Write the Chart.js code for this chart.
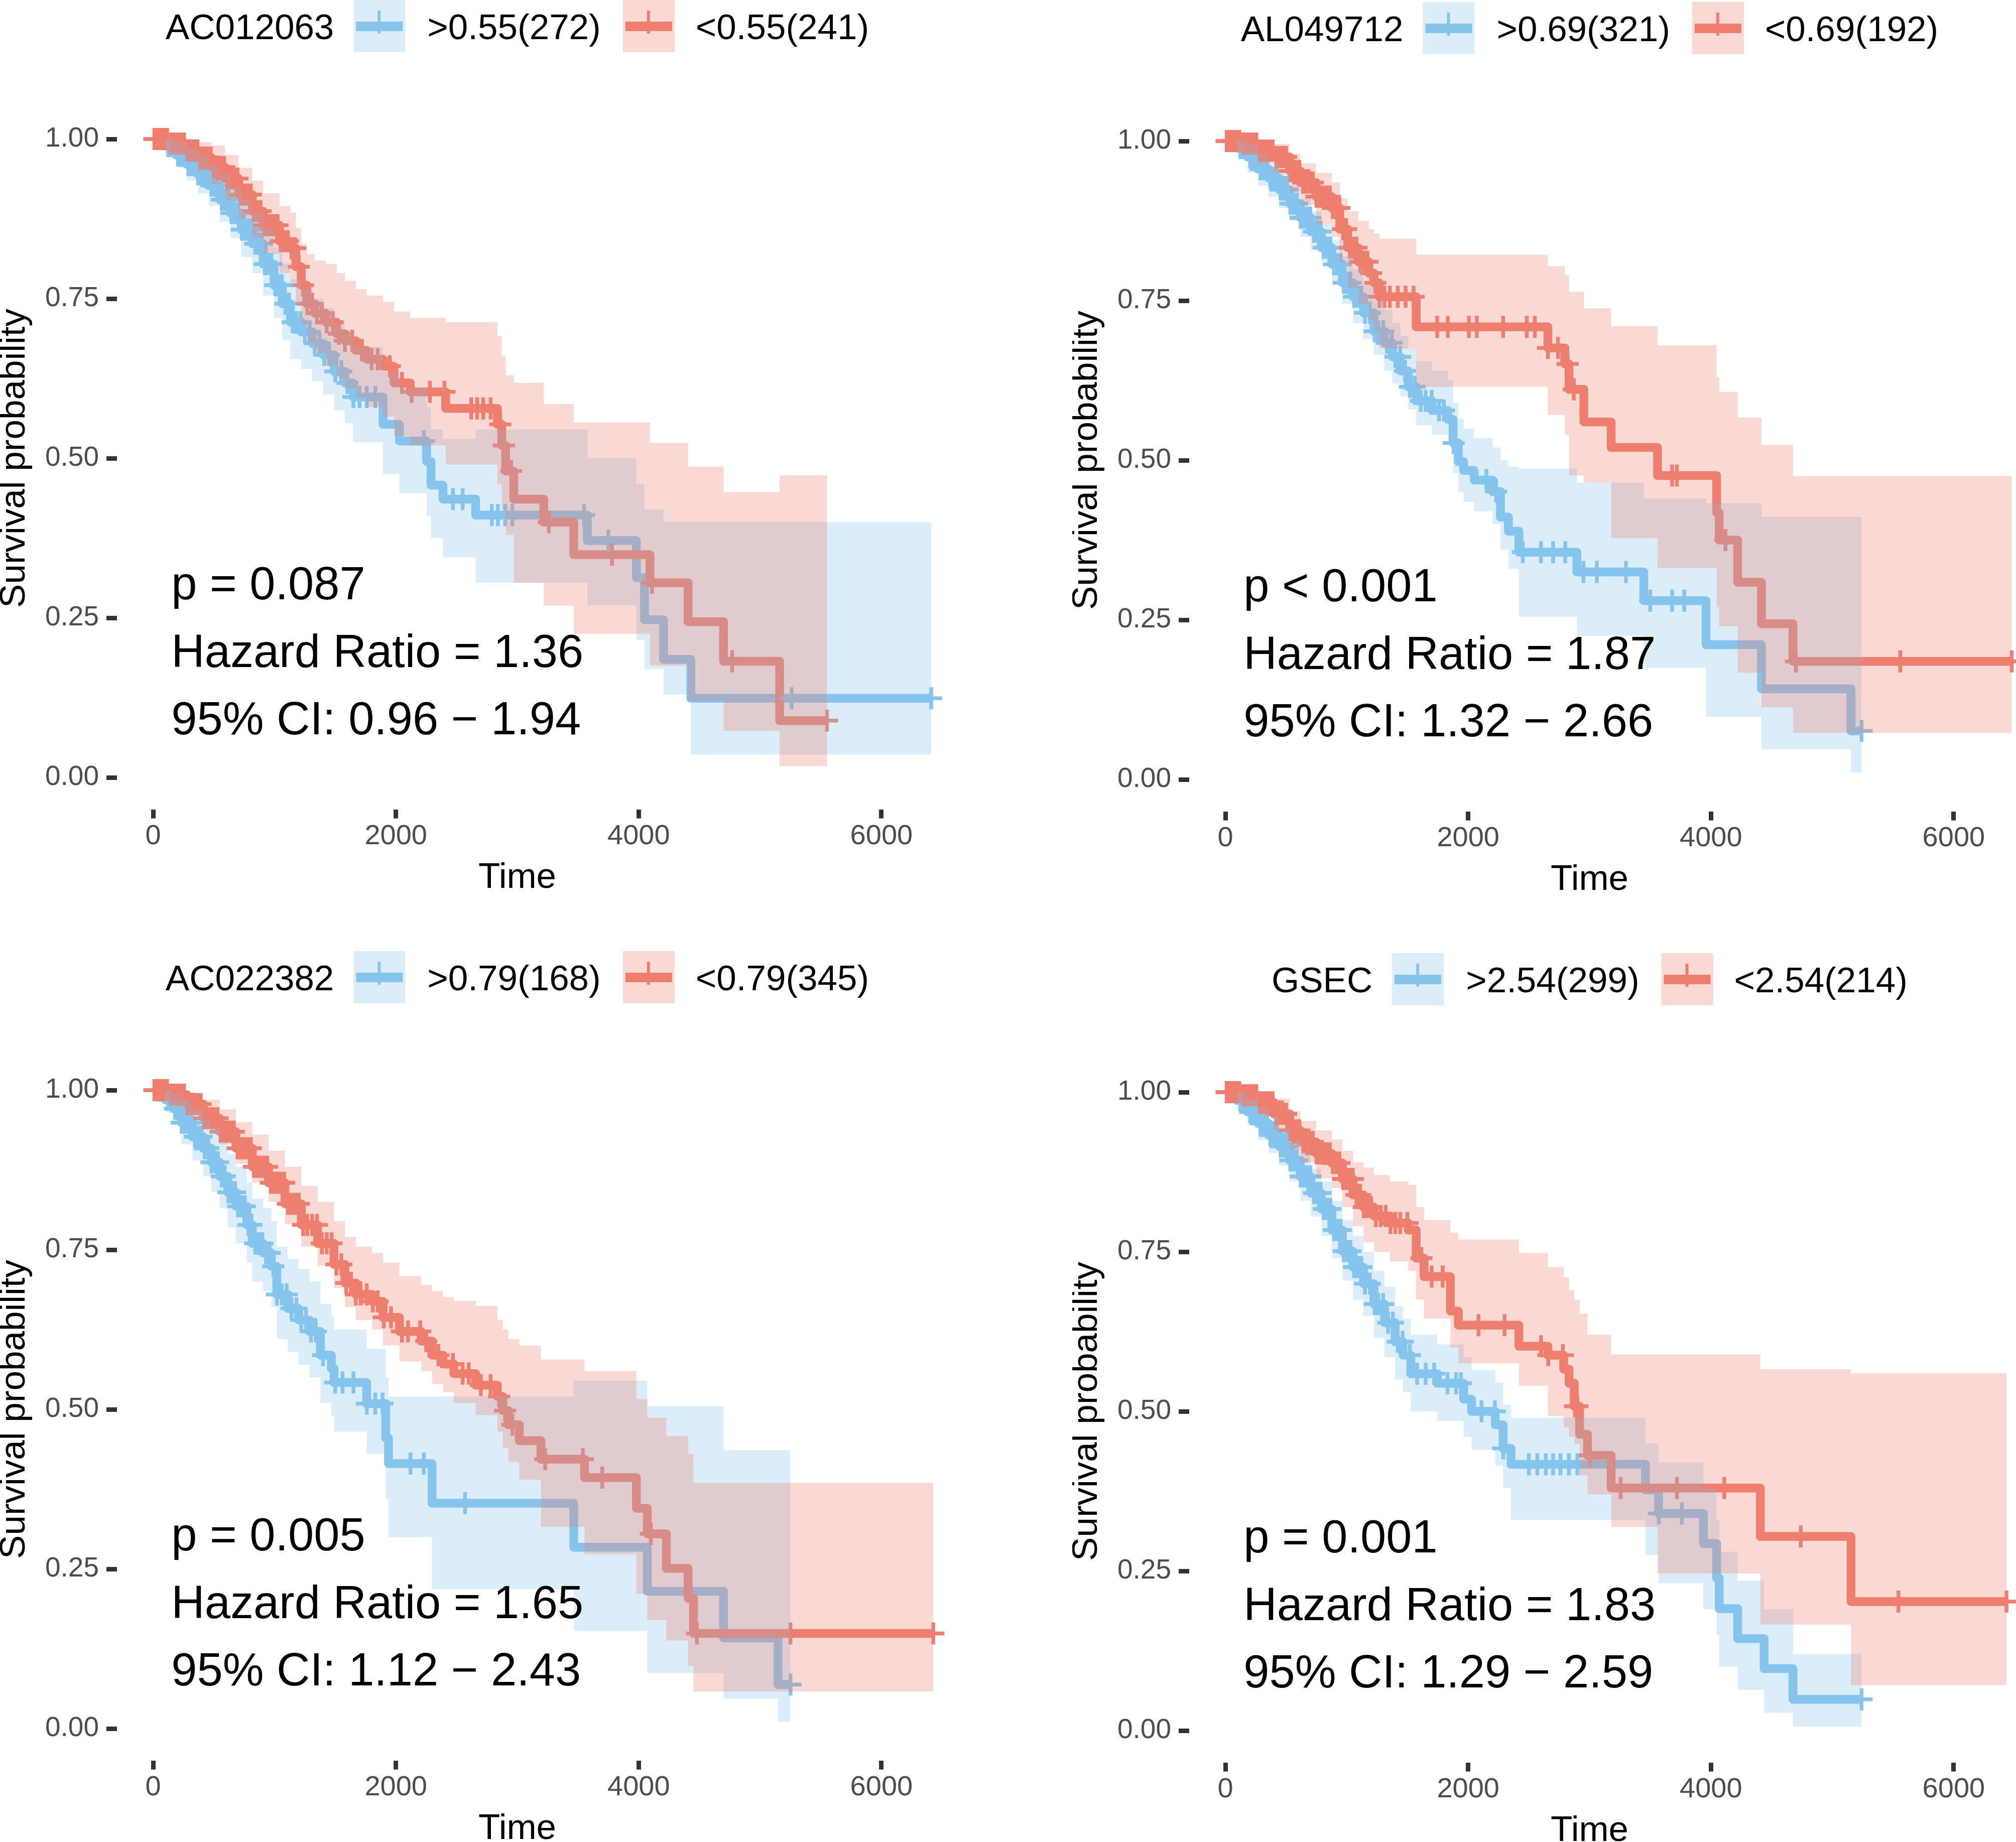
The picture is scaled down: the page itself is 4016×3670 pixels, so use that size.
<!DOCTYPE html>
<html>
<head>
<meta charset="utf-8">
<script src="https://cdn.jsdelivr.net/npm/chart.js@4.4.0/dist/chart.umd.min.js"></script>
<style>
html, body { margin: 0; padding: 0; background: #fff; overflow: hidden; }
body { width: 4016px; height: 3670px; position: relative; }
.panel { position: absolute; width: 2136px; height: 1895px; }
</style>
</head>
<body>
<div class="panel" style="left:0px;top:0px"><canvas id="km1" width="2136" height="1895"></canvas></div>
<div class="panel" style="left:2136px;top:4px"><canvas id="km2" width="2136" height="1895"></canvas></div>
<div class="panel" style="left:0px;top:1895px"><canvas id="km3" width="2136" height="1895"></canvas></div>
<div class="panel" style="left:2136px;top:1899px"><canvas id="km4" width="2136" height="1895"></canvas></div>
<script>
// labels and stats
var geneNames = ["AC012063", "AL049712", "AC022382", "GSEC"];
var highLabels = [">0.55(272)", ">0.69(321)", ">0.79(168)", ">2.54(299)"];
var lowLabels = ["<0.55(241)", "<0.69(192)", "<0.79(345)", "<2.54(214)"];
var pTexts = ["p = 0.087", "p < 0.001", "p = 0.005", "p = 0.001"];
var hrTexts = ["Hazard Ratio = 1.36", "Hazard Ratio = 1.87", "Hazard Ratio = 1.65", "Hazard Ratio = 1.83"];
var ciTexts = ["95% CI: 0.96 \u2212 1.94", "95% CI: 1.32 \u2212 2.66", "95% CI: 1.12 \u2212 2.43", "95% CI: 1.29 \u2212 2.59"];
var xTicks = [0, 2000, 4000, 6000];
var yTicks = [0, 0.25, 0.5, 0.75, 1];

// panel 1 - AC012063, high group
var p1HiTime = [0, 99, 188, 278, 368, 458, 548, 637, 727, 817, 907, 996, 1064, 1131, 1221, 1310, 1400, 1490, 1580, 1647, 1894, 2029, 2253, 2289, 2388, 2657, 3577, 3981, 4048, 4205, 4430];
var p1HiSurv = [1, .989, .975, .96, .945, .927, .905, .884, .858, .836, .804, .771, .742, .713, .698, .68, .662, .636, .618, .596, .553, .527, .495, .458, .436, .411, .371, .313, .247, .185, .124];
var p1HiUp = [1, 1, .995, .985, .975, .96, .945, .925, .905, .885, .86, .83, .805, .78, .765, .75, .735, .71, .695, .675, .635, .61, .58, .545, .53, .545, .50, .46, .42, .40, .40];
var p1HiLow = [1, .975, .955, .935, .915, .895, .87, .845, .815, .79, .755, .72, .685, .655, .64, .62, .60, .575, .555, .525, .475, .445, .41, .375, .345, .305, .27, .215, .17, .13, .036];
var p1HiCens = [15, 40, 70, 95, 125, 150, 180, 205, 235, 260, 290, 315, 345, 370, 400, 425, 455, 480, 510, 535, 565, 590, 620, 645, 675, 700, 730, 755, 785, 810, 840, 865, 895, 920, 950, 975, 1005, 1030, 1060, 1090, 1120, 1150, 1180, 1215, 1250, 1290, 1330, 1370, 1410, 1450, 1500, 1550, 1600, 1650, 1700, 1760, 1830, 2230, 2470, 2550, 2790, 2840, 2900, 2960, 3550, 3750, 5260, 6410];
// panel 1 - low group
var p1LoTime = [0, 144, 278, 368, 480, 592, 705, 817, 907, 1041, 1131, 1176, 1221, 1266, 1333, 1423, 1512, 1580, 1670, 1759, 1894, 1984, 2118, 2410, 2836, 2872, 2904, 2971, 3218, 3465, 4093, 4407, 4699, 5161];
var p1LoSurv = [1, .993, .982, .971, .956, .938, .913, .887, .865, .840, .829, .800, .771, .742, .727, .713, .695, .684, .669, .655, .644, .618, .604, .578, .553, .520, .480, .436, .400, .349, .305, .244, .182, .089];
var p1LoUp = [1, 1, 1, .995, .99, .975, .955, .935, .915, .895, .885, .86, .836, .82, .81, .804, .79, .778, .765, .755, .745, .73, .72, .713, .691, .66, .63, .618, .585, .556, .524, .487, .447, .473];
var p1LoLow = [1, .98, .965, .95, .93, .905, .875, .845, .82, .79, .775, .745, .71, .68, .665, .645, .625, .61, .595, .58, .565, .535, .52, .49, .46, .42, .38, .305, .269, .225, .175, .12, .073, .018];
var p1LoCens = [10, 35, 60, 90, 115, 145, 170, 200, 225, 255, 280, 310, 335, 365, 390, 420, 445, 475, 500, 530, 555, 585, 610, 640, 665, 695, 720, 750, 775, 805, 830, 860, 885, 915, 940, 970, 995, 1025, 1050, 1080, 1110, 1140, 1170, 1200, 1235, 1270, 1310, 1350, 1390, 1430, 1480, 1530, 1580, 1640, 1720, 1800, 1850, 1950, 2050, 2130, 2280, 2400, 2620, 2670, 2720, 2780, 2860, 2890, 2950, 3260, 3780, 4110, 4770, 5552];

// panel 2 - AL049712, high group
var p2HiTime = [0, 96, 182, 269, 356, 443, 530, 617, 703, 790, 877, 964, 1051, 1138, 1224, 1311, 1376, 1442, 1507, 1572, 1702, 1832, 1876, 1919, 1963, 2049, 2201, 2266, 2332, 2418, 2896, 3447, 3960, 4416, 5154];
var p2HiSurv = [1, .989, .975, .956, .942, .924, .902, .88, .858, .833, .807, .778, .756, .731, .702, .684, .662, .64, .615, .593, .578, .564, .527, .498, .484, .469, .451, .411, .389, .356, .325, .28, .211, .142, .076];
var p2HiUp = [1, 1, .995, .98, .965, .95, .93, .91, .89, .87, .845, .82, .80, .775, .75, .735, .715, .695, .675, .655, .64, .625, .59, .565, .55, .535, .52, .50, .49, .487, .465, .44, .433, .411, .411];
var p2HiLow = [1, .975, .95, .93, .913, .895, .875, .85, .83, .811, .78, .745, .715, .69, .665, .64, .62, .60, .58, .555, .54, .525, .48, .45, .435, .42, .40, .36, .33, .255, .225, .175, .098, .047, .011];
var p2HiCens = [15, 40, 70, 95, 125, 150, 180, 205, 235, 260, 290, 315, 345, 370, 400, 425, 455, 480, 510, 535, 565, 590, 620, 645, 675, 700, 730, 755, 785, 810, 840, 865, 895, 920, 950, 975, 1005, 1030, 1060, 1090, 1120, 1150, 1190, 1230, 1260, 1300, 1330, 1370, 1400, 1440, 1480, 1520, 1560, 1610, 1650, 1700, 1760, 1800, 1880, 2150, 2230, 2450, 2600, 2700, 2800, 2950, 3060, 3300, 3500, 3680, 3780, 5241];
// panel 2 - low group
var p2LoTime = [0, 139, 269, 399, 530, 617, 747, 877, 942, 1007, 1094, 1181, 1224, 1268, 1572, 2657, 2796, 2831, 2953, 3178, 3560, 4047, 4068, 4220, 4416, 4676];
var p2LoSurv = [1, .996, .985, .975, .953, .935, .913, .895, .862, .833, .811, .793, .778, .756, .709, .676, .651, .611, .56, .52, .476, .418, .375, .309, .244, .185];
var p2LoUp = [1, 1, 1, .995, .98, .965, .95, .935, .91, .89, .875, .862, .855, .847, .822, .804, .79, .764, .738, .71, .68, .63, .607, .567, .524, .475];
var p2LoLow = [1, .985, .965, .95, .92, .90, .87, .85, .81, .77, .745, .72, .70, .675, .615, .571, .54, .476, .465, .378, .331, .27, .24, .167, .113, .073];
var p2LoCens = [10, 35, 60, 90, 115, 145, 170, 200, 225, 255, 280, 310, 335, 365, 390, 420, 445, 475, 500, 530, 555, 585, 610, 640, 665, 695, 720, 750, 775, 805, 830, 860, 885, 915, 940, 970, 995, 1025, 1050, 1080, 1110, 1140, 1170, 1200, 1235, 1270, 1310, 1355, 1420, 1485, 1550, 1745, 1832, 2006, 2071, 2288, 2483, 2549, 2657, 2740, 2820, 2870, 3680, 3720, 4120, 4700, 5560, 6478];

// panel 3 - AC022382, high group
var p3HiTime = [0, 99, 166, 233, 323, 413, 480, 548, 615, 682, 772, 817, 907, 974, 1019, 1109, 1198, 1288, 1378, 1468, 1490, 1759, 1916, 1939, 2298, 3465, 4071, 4699, 5148];
var p3HiSurv = [1, .985, .971, .949, .927, .909, .887, .865, .84, .818, .789, .76, .745, .724, .68, .658, .64, .622, .585, .564, .542, .509, .455, .415, .353, .284, .215, .142, .069];
var p3HiUp = [1, 1, .995, .985, .97, .955, .94, .92, .90, .88, .855, .83, .815, .795, .755, .735, .72, .70, .665, .645, .625, .595, .55, .52, .52, .545, .505, .436, .436];
var p3HiLow = [1, .965, .945, .915, .89, .865, .84, .815, .785, .76, .73, .70, .685, .66, .61, .59, .57, .55, .51, .49, .465, .43, .36, .30, .218, .153, .087, .047, .011];
var p3HiCens = [15, 40, 70, 95, 125, 150, 180, 205, 235, 260, 290, 315, 345, 370, 400, 425, 455, 480, 510, 535, 565, 590, 620, 645, 675, 700, 730, 755, 785, 810, 840, 870, 900, 930, 960, 990, 1020, 1060, 1100, 1140, 1180, 1220, 1260, 1300, 1340, 1400, 1500, 1560, 1650, 1760, 1830, 1890, 2120, 2230, 2570, 5251];
// panel 3 - low group
var p3LoTime = [0, 144, 278, 413, 548, 682, 817, 951, 1086, 1221, 1355, 1490, 1580, 1670, 1804, 1894, 2029, 2208, 2298, 2388, 2477, 2657, 2836, 2881, 2926, 3016, 3195, 3554, 3981, 4071, 4228, 4407, 4452];
var p3LoSurv = [1, .993, .978, .956, .935, .909, .88, .855, .822, .789, .76, .727, .698, .68, .669, .644, .622, .607, .585, .571, .556, .538, .52, .498, .476, .451, .422, .393, .345, .305, .251, .204, .149];
var p3LoUp = [1, 1, .995, .985, .97, .95, .93, .905, .88, .85, .825, .795, .77, .755, .745, .73, .709, .695, .685, .676, .67, .662, .64, .625, .61, .60, .578, .56, .516, .487, .458, .43, .385];
var p3LoLow = [1, .985, .965, .94, .915, .885, .855, .825, .79, .755, .725, .69, .66, .64, .625, .60, .575, .56, .54, .527, .51, .491, .465, .44, .418, .39, .316, .273, .211, .17, .138, .098, .058];
var p3LoCens = [10, 35, 60, 90, 115, 145, 170, 200, 225, 255, 280, 310, 335, 365, 390, 420, 445, 475, 500, 530, 555, 585, 610, 640, 665, 695, 720, 750, 775, 805, 830, 860, 885, 915, 940, 970, 995, 1025, 1050, 1080, 1110, 1140, 1170, 1200, 1235, 1270, 1310, 1350, 1390, 1430, 1470, 1510, 1550, 1590, 1630, 1670, 1710, 1760, 1810, 1850, 1900, 1960, 2050, 2100, 2200, 2250, 2350, 2470, 2550, 2600, 2700, 2780, 2850, 2900, 2960, 3230, 3540, 3700, 4100, 4480, 5250, 6427];

// panel 4 - GSEC, high group
var p4HiTime = [0, 96, 182, 269, 356, 443, 530, 617, 703, 790, 877, 964, 1051, 1138, 1224, 1311, 1398, 1463, 1528, 1745, 1963, 2028, 2223, 2288, 2353, 3461, 3569, 3938, 4047, 4068, 4220, 4438, 4676];
var p4HiSurv = [1, .987, .969, .951, .933, .915, .893, .868, .842, .817, .784, .751, .726, .70, .668, .639, .609, .588, .559, .544, .519, .50, .479, .442, .417, .377, .34, .293, .239, .191, .144, .097, .049];
var p4HiUp = [1, 1, .99, .975, .96, .945, .925, .905, .88, .86, .83, .80, .775, .75, .72, .695, .665, .645, .62, .605, .585, .565, .545, .51, .49, .45, .42, .38, .33, .28, .235, .19, .12];
var p4HiLow = [1, .97, .95, .925, .905, .885, .86, .83, .805, .775, .74, .705, .675, .65, .615, .585, .55, .53, .50, .485, .46, .44, .415, .38, .33, .275, .231, .19, .15, .10, .064, .028, .006];
var p4HiCens = [15, 40, 70, 95, 125, 150, 180, 205, 235, 260, 290, 315, 345, 370, 400, 425, 455, 480, 510, 535, 565, 590, 620, 645, 675, 700, 730, 755, 785, 810, 840, 865, 895, 920, 950, 975, 1005, 1030, 1060, 1090, 1120, 1150, 1190, 1230, 1260, 1300, 1340, 1380, 1420, 1460, 1520, 1580, 1650, 1720, 1830, 1900, 1940, 2110, 2220, 2290, 2500, 2570, 2640, 2700, 2760, 2830, 2900, 3570, 3760, 5241];
// panel 4 - low group
var p4LoTime = [0, 139, 269, 399, 530, 617, 747, 877, 964, 1051, 1138, 1224, 1355, 1507, 1572, 1637, 1854, 1919, 2418, 2657, 2787, 2831, 2874, 2918, 2983, 3178, 3560, 4407, 5154];
var p4LoSurv = [1, .995, .984, .966, .94, .922, .904, .889, .864, .839, .82, .806, .795, .784, .74, .711, .657, .635, .602, .588, .566, .544, .508, .464, .431, .38, .38, .304, .202];
var p4LoUp = [1, 1, 1, .99, .97, .955, .94, .926, .908, .89, .882, .87, .86, .855, .82, .80, .78, .769, .748, .726, .71, .69, .675, .653, .62, .589, .589, .566, .56];
var p4LoLow = [1, .985, .965, .94, .91, .89, .865, .85, .82, .79, .765, .75, .735, .72, .675, .645, .60, .575, .54, .493, .475, .46, .449, .40, .37, .319, .246, .166, .071];
var p4LoCens = [10, 35, 60, 90, 115, 145, 170, 200, 225, 255, 280, 310, 335, 365, 390, 420, 445, 475, 500, 530, 555, 585, 610, 640, 665, 695, 720, 750, 775, 805, 830, 860, 885, 915, 940, 970, 995, 1025, 1050, 1080, 1110, 1140, 1170, 1200, 1240, 1280, 1320, 1360, 1400, 1440, 1500, 1615, 1700, 1790, 2085, 2300, 2600, 2660, 2780, 2880, 2900, 3005, 3256, 3720, 4110, 4740, 5545, 6435];

var blueLine = [134, 196, 236];
var redLine = [238, 126, 110];
var fontFam = "'Liberation Sans', Arial, Helvetica, sans-serif";

function rgba(c, a) { return 'rgba(' + c[0] + ',' + c[1] + ',' + c[2] + ',' + a + ')'; }

function survAt(times, surv, t) {
    var s = surv[0];
    for (var i = 0; i < times.length; i++) {
        if (times[i] <= t) s = surv[i];
    }
    return s;
}

function stepPoints(times, vals, endTime) {
    var pts = [];
    for (var i = 0; i < times.length; i++) pts.push({x: times[i], y: vals[i]});
    pts.push({x: endTime, y: vals[vals.length - 1]});
    return pts;
}

// one strata: curve, censor marks, CI ribbon (upper fills to lower)
function strataSets(time, surv, up, low, cens, col, k) {
    var end = Math.max.apply(null, cens);
    return [
        {data: stepPoints(time, surv, end), borderColor: rgba(col, 1), borderWidth: 17.5,
         borderJoinStyle: 'round', stepped: true, pointRadius: 0, fill: false, order: 6 - k},
        {data: cens.map(function(t) { return {x: t, y: survAt(time, surv, t)}; }),
         showLine: false, pointStyle: 'cross', pointRadius: 22, pointBorderWidth: 7.5,
         borderColor: rgba(col, 1), backgroundColor: rgba(col, 1), order: 4 - k},
        {data: stepPoints(time, up, end), borderColor: 'rgba(0,0,0,0)', borderWidth: 0,
         backgroundColor: rgba(col, 0.3), fill: '+1', stepped: true, pointRadius: 0, order: 2 - k},
        {data: stepPoints(time, low, end), borderColor: 'rgba(0,0,0,0)', borderWidth: 0,
         stepped: true, pointRadius: 0, fill: false, order: 2 - k}
    ];
}

//legend, annotation and x title
const kmText = {
    id: 'kmText',
    afterDraw: function(chart, args, opts) {
        const ctx = chart.ctx;
        const xs = chart.scales.x, ys = chart.scales.y;
        ctx.save();
        ctx.fillStyle = '#000';
        ctx.textAlign = 'left';
        ctx.textBaseline = 'alphabetic';

        // legend across the top
        ctx.font = '71px ' + fontFam;
        const tw = ctx.measureText(opts.gene).width;
        const w1 = ctx.measureText(opts.hi).width;
        const w2 = ctx.measureText(opts.lo).width;
        const total = tw + 39 + 103 + 44 + w1 + 44 + 103 + 42 + w2;
        let lx = xs.getPixelForValue(3000) - total / 2;
        ctx.fillText(opts.gene, lx, 78);
        lx += tw + 39;
        const keys = [[blueLine, opts.hi, w1, 44], [redLine, opts.lo, w2, 42]];
        keys.forEach(function(k) {
            ctx.fillStyle = rgba(k[0], 0.3);
            ctx.fillRect(lx, 0, 103, 104);
            ctx.fillStyle = rgba(k[0], 1);
            ctx.fillRect(lx + 5, 43, 93, 19);
            ctx.fillRect(lx + 48, 21, 6, 46);
            ctx.fillStyle = '#000';
            ctx.fillText(k[1], lx + 103 + k[3], 78);
            lx += 103 + k[3] + k[2] + 44;
        });

        // p value, HR, CI
        ctx.font = '92px ' + fontFam;
        const ax = xs.getPixelForValue(150);
        ctx.fillText(opts.p, ax, ys.getPixelForValue(0.279));
        ctx.fillText(opts.hr, ax, ys.getPixelForValue(0.173));
        ctx.fillText(opts.ci, ax, ys.getPixelForValue(0.068));

        // x axis title
        ctx.font = '71px ' + fontFam;
        ctx.textAlign = 'center';
        ctx.fillText('Time', xs.getPixelForValue(3000), 1769);
        ctx.restore();
    }
};

function makeChart(id, idx, sets) {
    new Chart(document.getElementById(id), {
        type: 'line',
        data: {datasets: sets},
        options: {
            responsive: false,
            animation: false,
            devicePixelRatio: 1,
            layout: {padding: {top: 213.4, left: 0, right: 199, bottom: 0}},
            plugins: {
                legend: {display: false},
                tooltip: {enabled: false},
                kmText: {gene: geneNames[idx], hi: highLabels[idx], lo: lowLabels[idx],
                         p: pTexts[idx], hr: hrTexts[idx], ci: ciTexts[idx]}
            },
            scales: {
                x: {
                    type: 'linear', min: -298, max: 6749,
                    afterBuildTicks: function(axis) { axis.ticks = xTicks.map(function(v) { return {value: v}; }); },
                    afterFit: function(axis) { axis.height = 282.4; },
                    grid: {drawOnChartArea: false, drawTicks: true, tickLength: 18, tickWidth: 9, tickColor: '#333333'},
                    border: {display: false},
                    ticks: {color: '#4D4D4D', font: {family: fontFam, size: 56}, padding: 2,
                            maxRotation: 0, autoSkip: false,
                            callback: function(v) { return String(v); }}
                },
                y: {
                    type: 'linear', min: -0.05, max: 1.05,
                    afterBuildTicks: function(axis) { axis.ticks = yTicks.map(function(v) { return {value: v}; }); },
                    afterFit: function(axis) { axis.width = 233; },
                    grid: {drawOnChartArea: false, drawTicks: true, tickLength: 21, tickWidth: 9, tickColor: '#333333'},
                    border: {display: false},
                    ticks: {color: '#4D4D4D', font: {family: fontFam, size: 55}, padding: 15,
                            callback: function(v) { return Number(v).toFixed(2); }},
                    title: {display: true, text: 'Survival probability', color: '#000',
                            font: {family: fontFam, size: 71, lineHeight: 0.83}, padding: 0}
                }
            }
        },
        plugins: [kmText]
    });
}

makeChart('km1', 0, strataSets(p1HiTime, p1HiSurv, p1HiUp, p1HiLow, p1HiCens, blueLine, 0)
    .concat(strataSets(p1LoTime, p1LoSurv, p1LoUp, p1LoLow, p1LoCens, redLine, 1)));
makeChart('km2', 1, strataSets(p2HiTime, p2HiSurv, p2HiUp, p2HiLow, p2HiCens, blueLine, 0)
    .concat(strataSets(p2LoTime, p2LoSurv, p2LoUp, p2LoLow, p2LoCens, redLine, 1)));
makeChart('km3', 2, strataSets(p3HiTime, p3HiSurv, p3HiUp, p3HiLow, p3HiCens, blueLine, 0)
    .concat(strataSets(p3LoTime, p3LoSurv, p3LoUp, p3LoLow, p3LoCens, redLine, 1)));
makeChart('km4', 3, strataSets(p4HiTime, p4HiSurv, p4HiUp, p4HiLow, p4HiCens, blueLine, 0)
    .concat(strataSets(p4LoTime, p4LoSurv, p4LoUp, p4LoLow, p4LoCens, redLine, 1)));
</script>
</body>
</html>
